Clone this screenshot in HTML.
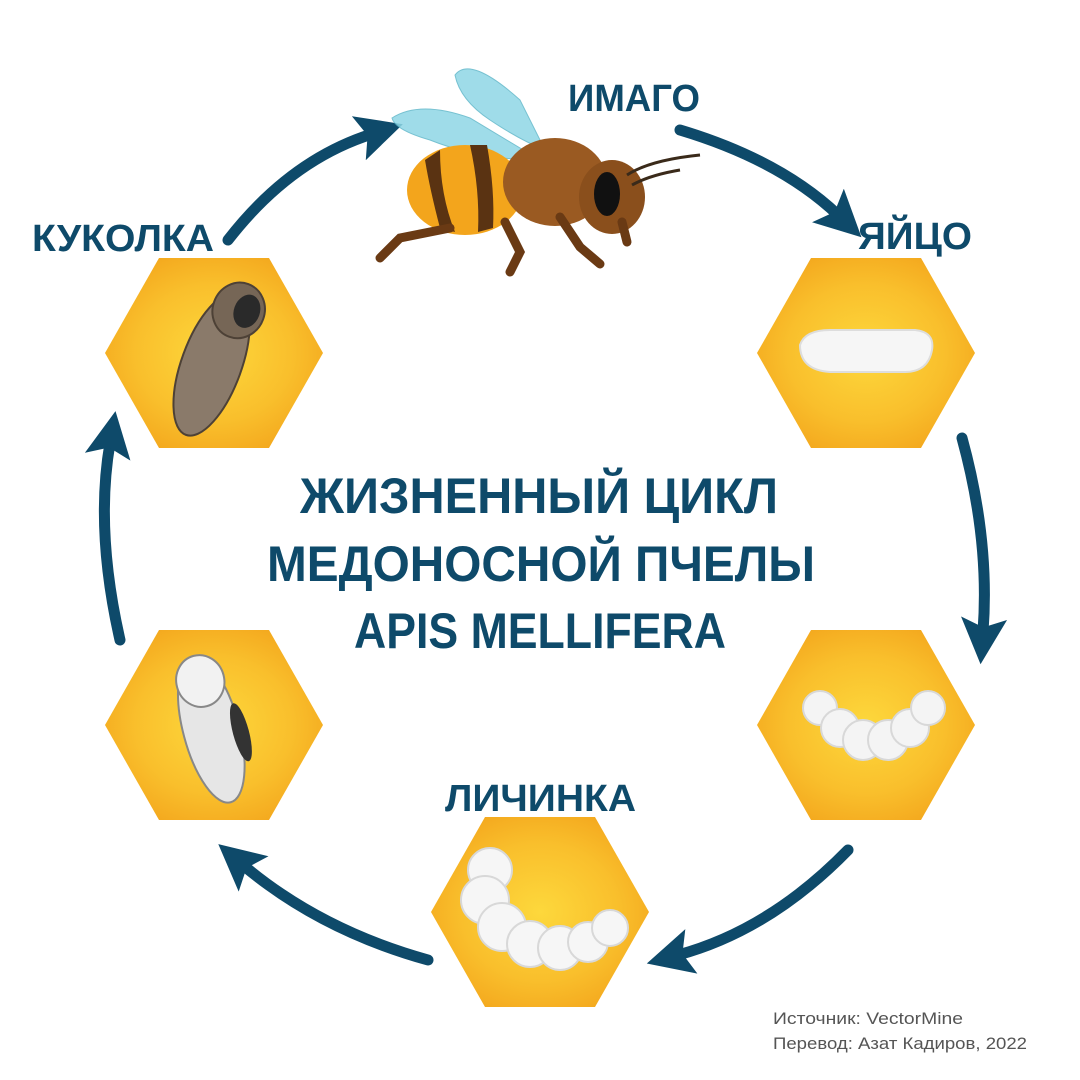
<!DOCTYPE html>
<html><head><meta charset="utf-8"><style>
html,body{margin:0;padding:0;background:#fff;}
svg{display:block}
</style></head><body>
<svg width="1080" height="1080" viewBox="0 0 1080 1080" xmlns="http://www.w3.org/2000/svg">
<defs>
<radialGradient id="hg" cx="50%" cy="50%" r="60%">
<stop offset="0" stop-color="#fdd83c"/><stop offset="0.6" stop-color="#f9bf2c"/><stop offset="1" stop-color="#f3a51c"/>
</radialGradient>
<marker id="ah" viewBox="0 0 10 10" refX="3" refY="5" markerWidth="4.2" markerHeight="4.2" orient="auto" markerUnits="strokeWidth">
<path d="M0,0 L10,5 L0,10 L2,5 z" fill="#0e4a6a"/>
</marker>
<g id="hex"><polygon points="-109,0 -55,-95 55,-95 109,0 55,95 -55,95" fill="url(#hg)"/></g>
</defs>

<use href="#hex" x="866" y="353"/>
<use href="#hex" x="866" y="725"/>
<use href="#hex" x="540" y="912"/>
<use href="#hex" x="214" y="725"/>
<use href="#hex" x="214" y="353"/>

<g fill="none" stroke="#0e4a6a" stroke-width="11" stroke-linecap="round" marker-end="url(#ah)">
<path d="M228,240 Q290,160 372,134"/>
<path d="M680,130 Q780,160 838,215"/>
<path d="M962,438 Q990,540 983,632"/>
<path d="M848,850 Q770,930 678,955"/>
<path d="M428,960 Q320,930 243,865"/>
<path d="M120,640 Q95,530 110,443"/>
</g>

<path d="M800,345 Q805,330 830,330 L915,330 Q935,332 932,350 Q928,372 905,372 L830,372 Q800,370 800,345z" fill="#f6f6f6" stroke="#ddd" stroke-width="2"/>
<g fill="#f4f4f4" stroke="#d8d8d8" stroke-width="2">
<circle cx="820" cy="708" r="17"/><circle cx="840" cy="728" r="19"/><circle cx="863" cy="740" r="20"/><circle cx="888" cy="740" r="20"/><circle cx="910" cy="728" r="19"/><circle cx="928" cy="708" r="17"/>
</g>
<g fill="#f6f6f6" stroke="#d8d8d8" stroke-width="2">
<circle cx="490" cy="870" r="22"/><circle cx="485" cy="900" r="24"/><circle cx="502" cy="927" r="24"/><circle cx="530" cy="944" r="23"/><circle cx="560" cy="948" r="22"/><circle cx="588" cy="942" r="20"/><circle cx="610" cy="928" r="18"/>
</g>
<g transform="rotate(-15 210 725)">
<ellipse cx="210" cy="730" rx="28" ry="75" fill="#e6e6e6" stroke="#888" stroke-width="2"/>
<ellipse cx="212" cy="680" rx="24" ry="26" fill="#f2f2f2" stroke="#888" stroke-width="2"/>
<ellipse cx="238" cy="740" rx="8" ry="30" fill="#333"/>
</g>
<g transform="rotate(20 215 355)">
<ellipse cx="215" cy="365" rx="30" ry="75" fill="#8a7a6a" stroke="#4d4136" stroke-width="2"/>
<ellipse cx="222" cy="305" rx="26" ry="28" fill="#766656" stroke="#4d4136" stroke-width="2"/>
<ellipse cx="230" cy="303" rx="13" ry="17" fill="#2a2a2a"/>
</g>

<g>
<path d="M455,75 Q470,55 520,100 L545,150 Q520,140 490,120 Q460,100 455,75z" fill="#8fd7e6" opacity="0.85" stroke="#5fb7c9"/>
<path d="M392,118 Q420,100 470,118 L540,160 Q480,160 430,140 Q395,130 392,118z" fill="#8fd7e6" opacity="0.85" stroke="#5fb7c9"/>
<ellipse cx="465" cy="190" rx="58" ry="45" fill="#f3a51c"/>
<path d="M425,160 Q430,190 440,228 L455,232 Q440,195 440,150z" fill="#5a3312"/>
<path d="M470,145 Q480,190 478,232 L493,228 Q495,190 487,145z" fill="#5a3312"/>
<ellipse cx="555" cy="182" rx="52" ry="44" fill="#9a5a22"/>
<ellipse cx="612" cy="197" rx="33" ry="37" fill="#8a4f1c"/>
<ellipse cx="607" cy="194" rx="13" ry="22" fill="#111"/>
<g stroke="#6a3a14" stroke-width="9" fill="none" stroke-linecap="round">
<path d="M450,228 L400,238 L380,258"/>
<path d="M505,222 L520,252 L510,272"/>
<path d="M560,217 L580,247 L600,264"/>
<path d="M622,222 L627,242"/>
</g>
<g stroke="#3a2a1a" stroke-width="3" fill="none"><path d="M627,175 Q650,160 700,155"/><path d="M632,185 Q650,175 680,170"/></g>
</g>

<g font-family="Liberation Sans, sans-serif" font-weight="bold" fill="#0e4a6a">
<text x="568" y="111" font-size="38" textLength="132" lengthAdjust="spacingAndGlyphs">ИМАГО</text>
<text x="858" y="249" font-size="38" textLength="114" lengthAdjust="spacingAndGlyphs">ЯЙЦО</text>
<text x="32" y="251" font-size="38" textLength="182" lengthAdjust="spacingAndGlyphs">КУКОЛКА</text>
<text x="445" y="811" font-size="38" textLength="191" lengthAdjust="spacingAndGlyphs">ЛИЧИНКА</text>
<text x="300" y="513" font-size="50" textLength="478" lengthAdjust="spacingAndGlyphs">ЖИЗНЕННЫЙ ЦИКЛ</text>
<text x="267" y="581" font-size="50" textLength="548" lengthAdjust="spacingAndGlyphs">МЕДОНОСНОЙ ПЧЕЛЫ</text>
<text x="354" y="648" font-size="50" textLength="372" lengthAdjust="spacingAndGlyphs">APIS MELLIFERA</text>
</g>
<g font-family="Liberation Sans, sans-serif" font-size="17" fill="#555">
<text x="773" y="1024" textLength="190" lengthAdjust="spacingAndGlyphs">Источник: VectorMine</text>
<text x="773" y="1049" textLength="254" lengthAdjust="spacingAndGlyphs">Перевод: Азат Кадиров, 2022</text>
</g>
</svg>
</body></html>
